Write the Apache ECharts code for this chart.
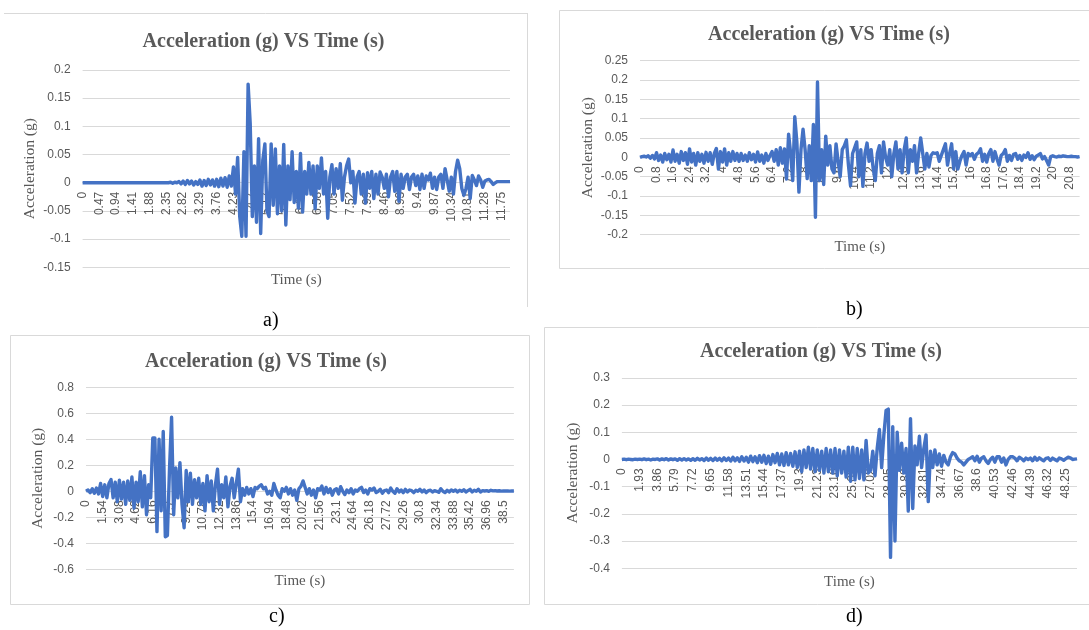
<!DOCTYPE html>
<html><head><meta charset="utf-8">
<script src="https://cdn.jsdelivr.net/npm/echarts/dist/echarts.min.js"></script>
<style>html,body{margin:0;padding:0;background:#fff}#c{width:1089px;height:630px}</style>
</head><body><div id="c"></div>
<script>
// ---- tick labels (shown every 8th sample) ----
var ticksA = ['0','0.47','0.94','1.41','1.88','2.35','2.82','3.29','3.76','4.23','4.7','5.17','5.64','6.11','6.58','7.05','7.52','7.99','8.46','8.93','9.4','9.87','10.34','10.81','11.28','11.75'];
var ticksB = ['0','0.8','1.6','2.4','3.2','4','4.8','5.6','6.4','7.2','8','8.8','9.6','10.4','11.2','12','12.8','13.6','14.4','15.2','16','16.8','17.6','18.4','19.2','20','20.8'];
var ticksC = ['0','1.54','3.08','4.62','6.16','7.7','9.24','10.78','12.32','13.86','15.4','16.94','18.48','20.02','21.56','23.1','24.64','26.18','27.72','29.26','30.8','32.34','33.88','35.42','36.96','38.5'];
var ticksD = ['0','1.93','3.86','5.79','7.72','9.65','11.58','13.51','15.44','17.37','19.3','21.23','23.16','25.09','27.02','28.95','30.88','32.81','34.74','36.67','38.6','40.53','42.46','44.39','46.32','48.25'];
var stepA = 0.47, stepB = 0.8, stepC = 1.54, stepD = 1.93;

// ---- acceleration values (g), 8 samples per tick interval ----
var accA = [
0,0,0,0,0,0,0,0, 0,0,0,0,0,0,0,0, 0,0,0,0,0,0,0,0, 0,0,0,0,0,0,0,0, 0,0,0,0,0,0,0,0,
0,0,0.001,-0.001,0.001,0,0.002,-0.002,
0.003,-0.003,0.004,-0.002,0.003,-0.004,0.002,-0.003,
0.005,-0.006,0.004,-0.005,0.006,-0.004,0.005,-0.006,
0.006,-0.007,0.008,-0.006,0.009,-0.008,0.012,-0.006,
0.028,-0.02,0.045,-0.06,-0.095,0.055,-0.095,0.175,
0.105,-0.06,0.03,-0.07,0.078,-0.09,0.04,0.069,
-0.05,-0.06,0.069,-0.04,0.06,-0.055,0.03,-0.05,
0.068,-0.075,0.03,-0.03,0.055,-0.035,0.02,-0.045,
0.052,-0.052,0.02,-0.02,0.036,-0.02,0.03,-0.046,
0.03,-0.01,0.044,-0.02,0.02,-0.063,0.01,0.032,
-0.02,0.025,-0.01,0.034,-0.031,0.01,0.03,0.042,
0,0.02,-0.036,0.01,0.02,-0.02,0.015,-0.036,
0.018,-0.01,0.02,-0.028,0.015,-0.02,0.019,0.01,
-0.01,0.015,-0.025,0.01,0.02,-0.015,0.02,-0.033,
0.015,-0.01,0.01,0.015,-0.012,0.01,0.015,-0.005,
0.012,-0.012,0.015,-0.01,0.012,0.005,0.017,-0.01,
0.01,-0.012,0.01,0.015,-0.01,0.025,0.005,-0.015,
0.01,-0.02,0.02,0.04,0.025,-0.01,-0.022,-0.01,
0.01,-0.028,0.013,0.005,-0.005,0.012,0.005,-0.008,
0.003,0.005,0.006,0.002,-0.003,0,0.002,0.002,
0.002,0.002,0.002,0.002,0.002
];
var accB = [
0,0.002,0.003,0.001,0.004,-0.002,0.005,-0.004,
0.012,-0.008,0.006,-0.012,0.01,-0.006,0.008,-0.012,
0.019,-0.01,0.008,-0.015,0.015,-0.008,0.012,-0.018,
0.022,-0.012,0.01,-0.02,0.012,-0.01,0.008,-0.015,
0.013,-0.01,0.012,-0.018,0.01,0.023,-0.03,0.015,
-0.012,0.022,-0.02,0.012,-0.01,0.015,-0.008,0.01,
-0.01,0.01,-0.008,0.006,-0.01,0.012,-0.006,0.008,
-0.012,0.014,-0.01,0.006,-0.015,0.01,-0.008,0.005,
0.015,-0.01,0.02,-0.02,0.025,-0.015,0.022,-0.056,
0.06,0.01,-0.06,0.105,0.04,-0.09,0.02,0.073,
0.02,-0.055,0.03,-0.06,0.085,-0.155,0.195,-0.06,
0.02,-0.07,0.055,-0.02,0.03,-0.03,-0.04,0.035,
-0.01,-0.05,0.02,0.03,0.045,-0.02,-0.073,0.01,
0.025,0.04,-0.05,0.02,-0.075,0.01,0.037,-0.01,
0.02,-0.03,-0.06,0.01,0.03,-0.04,0.04,0,
-0.02,0.02,-0.05,0.01,0.04,-0.03,0.02,-0.04,
0.02,0.05,-0.04,0.02,-0.01,0.03,-0.04,0.01,
0.05,0.01,-0.03,0.01,-0.025,0.005,0.012,0.01,
0.012,-0.01,0.005,0.02,0.035,-0.02,0.01,0.035,
-0.03,0.015,-0.03,-0.01,0.005,0.015,-0.02,0.01,
0.005,0.01,-0.005,0.008,0.012,0.022,-0.01,0.008,
-0.012,0.01,0.02,-0.01,0.015,-0.005,-0.02,0.005,
0.01,0.02,-0.01,0.005,-0.008,0.008,0.01,-0.005,
0.005,-0.008,0.006,0,0.012,-0.005,0.004,-0.006,
0.003,0.006,0.01,-0.004,0.002,-0.008,-0.02,0.002,
0.004,0.002,0.001,0.003,0.002,0.004,0.003,0.002,
0.002,0.003,0.002,0.002,0.001,0.002
];
var accC = [
0,0.01,-0.01,0.02,-0.015,0.025,-0.02,0.06,
-0.04,0.05,-0.05,0.06,0.09,-0.05,0.07,-0.08,
0.085,-0.06,0.07,-0.1,0.08,-0.07,0.11,-0.13,
0.07,-0.08,0.15,-0.12,0.12,-0.18,0.05,-0.05,
0.41,0.41,-0.31,0.40,-0.15,0.46,-0.35,-0.34,
0.17,0.57,-0.18,0.18,-0.05,0.22,-0.1,-0.28,
0.16,-0.08,0.14,-0.1,0.09,-0.05,0.1,-0.1,
0.06,-0.15,0.12,-0.08,0.08,-0.15,0.05,0.17,
-0.1,0.05,-0.05,0.11,-0.12,0.04,0.1,-0.05,
0.06,0.17,-0.08,0.02,-0.03,0.03,-0.02,0.02,
-0.04,0.03,0.02,0.04,0.05,0.02,0.03,-0.02,
0,-0.03,0.06,0.01,-0.03,-0.05,0.02,0,
0.03,-0.02,0.02,-0.03,0.01,-0.07,0.02,0.04,
0.08,0.03,-0.02,0.02,-0.03,0.01,-0.05,0.02,
0.01,0.04,-0.02,0.03,-0.01,0.02,-0.03,0.01,
0.02,-0.02,0.035,0,-0.025,0.01,-0.01,0.02,
-0.02,0.01,0,0.02,0.03,-0.01,0.01,-0.02,
0.02,0.01,0.025,-0.01,0,0.015,-0.015,0.005,
0.01,-0.01,0.025,0,-0.015,0.02,-0.005,0.01,
-0.01,0.015,-0.005,0.01,0.005,-0.01,0.008,0,
0.015,-0.005,0.01,-0.01,0.005,0.008,-0.005,0.005,
0,-0.008,0.02,0,-0.01,0.008,-0.005,0.01,
0,0.01,-0.005,0.008,0,0.012,-0.005,0.005,
0.015,-0.005,0.008,0,0.015,-0.005,0.005,0.002,
0.005,0,0.008,0.003,0.005,0.002,0.004,0.001,
0.003,0.002,0.003,0.001,0.002,0.002
];
var accD = [
0,0.001,-0.001,0.001,0,-0.001,0.001,0,
0.001,-0.001,0.002,-0.001,0.001,-0.002,0.001,0,
0.002,-0.002,0.002,-0.001,0.003,-0.002,0.002,-0.001,
0.002,-0.003,0.003,-0.002,0.003,-0.002,0.002,-0.003,
0.003,-0.003,0.004,-0.002,0.003,-0.004,0.005,-0.003,
0.004,-0.004,0.005,-0.003,0.004,-0.005,0.006,-0.004,
0.005,-0.006,0.008,-0.005,0.006,-0.007,0.01,-0.006,
0.008,-0.01,0.012,-0.008,0.01,-0.012,0.014,-0.01,
0.015,-0.015,0.012,-0.018,0.018,-0.012,0.022,-0.02,
0.02,-0.022,0.025,-0.02,0.022,-0.025,0.028,-0.03,
0.03,-0.045,0.035,-0.03,0.045,-0.035,0.04,-0.045,
0.035,-0.04,0.03,-0.05,0.04,-0.045,0.035,-0.05,
0.04,-0.06,0.035,-0.05,0.03,-0.065,0.045,-0.08,
0.045,-0.075,0.04,-0.07,0.035,-0.075,0.07,-0.05,
-0.04,0.03,-0.06,0.04,0.11,-0.03,0.09,0.18,
0.185,-0.36,0.12,-0.30,0.1,-0.04,0.06,-0.05,
0.04,-0.19,0.15,-0.18,0.05,-0.02,0.085,-0.03,
0.04,0.09,-0.155,0.03,-0.03,0.035,-0.02,0.02,
-0.025,0.015,-0.01,-0.02,0.01,0.025,0.02,0.005,
-0.005,-0.01,-0.02,-0.01,0,0.005,0.01,-0.005,
0.012,-0.01,0.005,0.01,-0.005,-0.015,0,0.008,
-0.01,0.01,0.01,-0.01,0.005,-0.02,0,0.01,
0.01,0.005,-0.005,0.008,0.003,-0.005,0.005,0,
0.005,-0.005,0.008,-0.003,0.006,0,-0.005,0.004,
0.006,-0.004,0.005,0,-0.005,0.005,0.002,-0.003,
0.003,0.008,0.006,0,0.001,0.002
];

var GRAY = '#595959', GRID = '#d9d9d9', BLUE = '#4472C4';
var SERIF = "'Liberation Serif','Times New Roman',serif";
var SANS = "'Liberation Sans',Arial,sans-serif";

function cats(n, step) {
  var a = [];
  for (var i = 0; i < n; i++) a.push(String(+(i * step / 8).toFixed(4)));
  return a;
}
var panels = [
  {acc: accA, ticks: ticksA, step: stepA, grid: {left: 82.6, top: 70, width: 427.4, height: 197.3}, y: [-0.15, 0.2, 0.05], yGap: 45, xGap: 89.5,
   title: [258.5, 27], tag: ['a)', 272, 322]},
  {acc: accB, ticks: ticksB, step: stepB, grid: {left: 640, top: 60.7, width: 439.6, height: 174}, y: [-0.2, 0.25, 0.05], yGap: 44, xGap: 82,
   title: [824, 20], tag: ['b)', 855, 311]},
  {acc: accC, ticks: ticksC, step: stepC, grid: {left: 86, top: 387.3, width: 427.9, height: 182}, y: [-0.6, 0.8, 0.2], yGap: 40, xGap: 82,
   title: [261, 347], tag: ['c)', 278, 618]},
  {acc: accD, ticks: ticksD, step: stepD, grid: {left: 621.9, top: 377.8, width: 455.1, height: 190.5}, y: [-0.4, 0.3, 0.1], yGap: 40.5, xGap: 115,
   title: [816, 337], tag: ['d)', 855, 618]}
];

var option = {animation: false, backgroundColor: '#fff', title: [], grid: [], xAxis: [], yAxis: [], series: [], graphic: []};
panels.forEach(function (p, k) {
  option.title.push({text: 'Acceleration (g) VS Time (s)', left: p.title[0], top: p.title[1], textAlign: 'center',
    textStyle: {fontFamily: SERIF, fontWeight: 'bold', fontSize: 20, color: GRAY}});
  option.grid.push(p.grid);
  var ticks = p.ticks;
  // category axis drawn at the zero line of the value axis (as in the spreadsheet chart)
  var zeroOffset = -p.grid.height * (0 - p.y[0]) / (p.y[1] - p.y[0]);
  option.xAxis.push({type: 'category', gridIndex: k, boundaryGap: false, data: cats(p.acc.length, p.step),
    offset: zeroOffset,
    name: 'Time (s)', nameLocation: 'middle', nameGap: p.xGap,
    nameTextStyle: {fontFamily: SERIF, fontSize: 15, color: GRAY},
    axisLine: {onZero: false, lineStyle: {color: GRID}}, axisTick: {show: false},
    axisLabel: {rotate: 90, margin: 9, fontFamily: SANS, fontSize: 12, color: GRAY,
      interval: function (i) { return i % 8 === 0; },
      formatter: function (v, i) { return ticks[Math.round(i / 8)] || ''; }},
    splitLine: {show: false}});
  option.yAxis.push({type: 'value', gridIndex: k, min: p.y[0], max: p.y[1], interval: p.y[2],
    name: 'Acceleration (g)', nameLocation: 'middle', nameGap: p.yGap, nameRotate: 90,
    nameTextStyle: {fontFamily: SERIF, fontSize: 15.5, color: GRAY},
    axisLine: {show: false}, axisTick: {show: false},
    axisLabel: {margin: 12, fontFamily: SANS, fontSize: 12, color: GRAY},
    splitLine: {lineStyle: {color: GRID, width: 1}}});
  option.series.push({type: 'line', xAxisIndex: k, yAxisIndex: k, data: p.acc, showSymbol: false, symbol: 'none',
    lineStyle: {color: BLUE, width: 3.4, join: 'round'}, itemStyle: {color: BLUE}});
  option.graphic.push({type: 'text', left: p.tag[1] - 9, top: p.tag[2] - 11,
    style: {text: p.tag[0], font: '20px ' + SERIF, fill: '#000'}});
});
// panel frames
option.graphic.push(
  {type: 'line', shape: {x1: 4, y1: 13.5, x2: 527, y2: 13.5}, style: {stroke: GRID, lineWidth: 1}, silent: true},
  {type: 'line', shape: {x1: 527.5, y1: 13, x2: 527.5, y2: 307}, style: {stroke: GRID, lineWidth: 1}, silent: true},
  {type: 'rect', shape: {x: 559.5, y: 10.5, width: 600, height: 258}, style: {stroke: GRID, fill: 'none', lineWidth: 1}, silent: true, z: -1},
  {type: 'rect', shape: {x: 10.5, y: 335.5, width: 519, height: 269}, style: {stroke: GRID, fill: 'none', lineWidth: 1}, silent: true, z: -1},
  {type: 'rect', shape: {x: 544.5, y: 327.5, width: 600, height: 277}, style: {stroke: GRID, fill: 'none', lineWidth: 1}, silent: true, z: -1}
);
var chart = echarts.init(document.getElementById('c'), null, {renderer: 'canvas'});
chart.setOption(option);
</script>
</body></html>
